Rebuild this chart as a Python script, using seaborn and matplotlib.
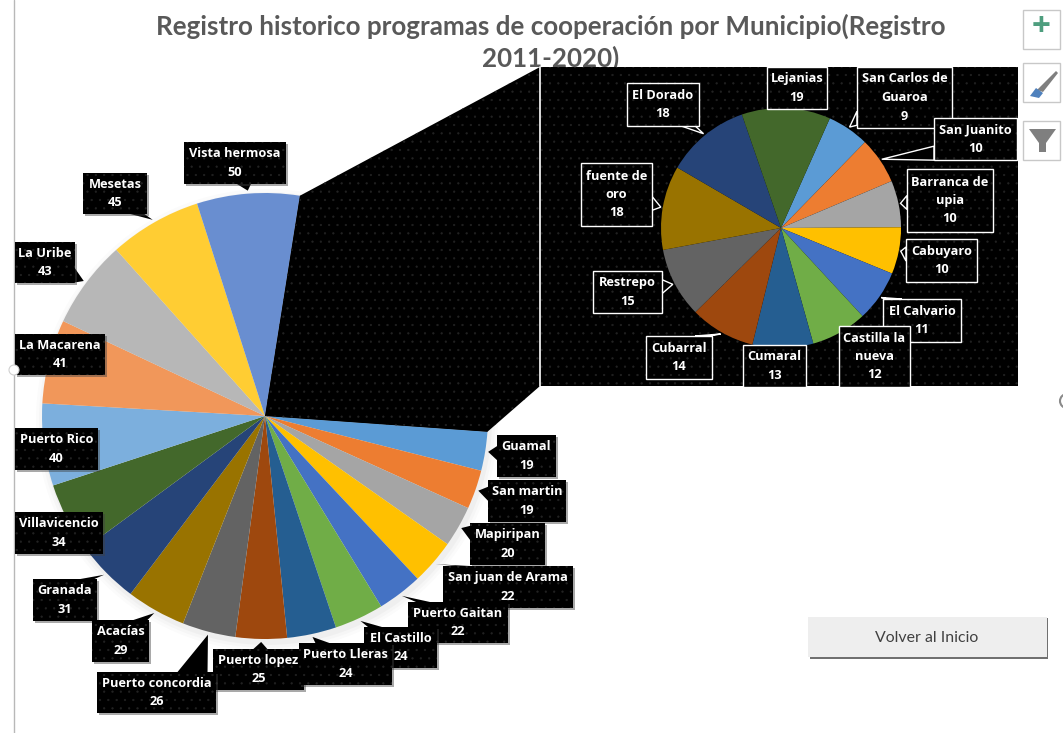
import matplotlib
matplotlib.use("Agg")
import matplotlib.pyplot as plt
import numpy as np
import seaborn as sns
from matplotlib.patches import Circle, Polygon, Rectangle

# Data
main_names = ["Guamal", "San martin", "Mapiripan", "San juan de Arama", "Puerto Gaitan",
              "El Castillo", "Puerto Lleras", "Puerto lopez", "Puerto concordia", "Acacías",
              "Granada", "Villavicencio", "Puerto Rico", "La Macarena", "La Uribe",
              "Mesetas", "Vista hermosa"]
main_values = [19, 19, 20, 22, 22, 24, 24, 25, 26, 29, 31, 34, 40, 41, 43, 45, 50]
main_colors = ["#5B9BD5", "#ED7D31", "#A5A5A5", "#FFC000", "#4472C4", "#70AD47",
               "#255E91", "#9E480E", "#636363", "#997300", "#264478", "#43682B",
               "#7CAFDD", "#F1975A", "#B7B7B7", "#FFCD33", "#698ED0"]

sub_names = ["San Carlos de\nGuaroa", "San Juanito", "Barranca de\nupia", "Cabuyaro",
             "El Calvario", "Castilla la\nnueva", "Cumaral", "Cubarral", "Restrepo",
             "fuente de\noro", "El Dorado", "Lejanias"]
sub_values = [9, 10, 10, 10, 11, 12, 13, 14, 15, 18, 18, 19]
sub_colors = ["#5B9BD5", "#ED7D31", "#A5A5A5", "#FFC000", "#4472C4", "#70AD47",
              "#255E91", "#9E480E", "#636363", "#997300", "#264478", "#43682B"]

# Label boxes in image pixels: x0, y0, x1, y1 (drawn in this order, later ones on top)
main_boxes = {
    "Guamal": (497, 435, 556, 477), "San martin": (488, 480, 566, 522),
    "Mapiripan": (470, 523, 545, 565), "San juan de Arama": (443, 566, 573, 608),
    "Puerto Gaitan": (408, 602, 508, 643), "El Castillo": (364, 627, 437, 668),
    "Puerto lopez": (213, 649, 304, 690), "Puerto Lleras": (299, 643, 392, 685),
    "Puerto concordia": (97, 672, 216, 713), "Granada": (33, 579, 97, 621),
    "Acacías": (92, 620, 149, 662), "Villavicencio": (15, 512, 103, 554),
    "Puerto Rico": (15, 428, 98, 470), "La Macarena": (15, 334, 105, 375),
    "La Uribe": (15, 242, 75, 283), "Mesetas": (83, 173, 147, 214),
    "Vista hermosa": (184, 142, 286, 184),
}
sub_boxes = {
    "San Carlos de\nGuaroa": (857, 67, 952, 128), "San Juanito": (934, 118, 1017, 160),
    "Barranca de\nupia": (907, 169, 993, 232), "Cabuyaro": (906, 239, 977, 282),
    "El Calvario": (883, 299, 961, 342), "Castilla la\nnueva": (839, 326, 910, 387),
    "Cumaral": (743, 345, 806, 387), "Cubarral": (646, 336, 712, 379),
    "Restrepo": (593, 271, 662, 313), "fuente de\noro": (581, 163, 652, 226),
    "El Dorado": (627, 83, 699, 126), "Lejanias": (767, 67, 827, 109),
}

W, H = 1063, 733
DOTS = "#222222"
LINE_STEP = 18.5

sns.set_theme(style="white")
plt.rcParams["font.family"] = ["Open Sans", "DejaVu Sans"]
plt.rcParams["hatch.linewidth"] = 0.4

fig = plt.figure(figsize=(W / 100, H / 100), dpi=100)
ax = fig.add_axes([0, 0, 1, 1])


def py(y):
    return H - y


# soft shadow under the big pie
for grow, a in [(8, 0.03), (5, 0.04), (2, 0.05)]:
    ax.add_patch(Circle((267, py(420)), 223 + grow, color="#808080", alpha=a, lw=0, zorder=0.5))

# big pie, the black slice holds everything from the small pie
other = sum(sub_values)
main_wedges, _ = ax.pie([other] + main_values, colors=["#000000"] + sns.color_palette(main_colors),
                        center=(265, py(416)), radius=223, startangle=81, counterclock=False,
                        frame=True, wedgeprops={"linewidth": 0})
main_wedges[0].set(edgecolor=DOTS, linewidth=0, hatch="..")


def edge_point(center, r, angle):
    return center[0] + r * np.cos(np.radians(angle)), center[1] + r * np.sin(np.radians(angle))


# black band joining the slice to the box of the small pie
c_main = (265, py(416))
top = edge_point(c_main, 223, main_wedges[0].theta2)
bottom = edge_point(c_main, 223, main_wedges[0].theta1)
ax.add_patch(Polygon([c_main, top, (540, py(67)), (540, py(386)), bottom], closed=True,
                     facecolor="black", edgecolor=DOTS, linewidth=0, hatch="..", zorder=1.5))
ax.add_patch(Rectangle((540, py(386)), 478, 319, facecolor="black", edgecolor=DOTS,
                       linewidth=0, hatch="..", zorder=1.5))
ax.plot([540, 540], [py(67), py(386)], color="white", lw=1.2, zorder=1.6)

# small pie
sub_wedges, _ = ax.pie(sub_values, colors=sns.color_palette(sub_colors), center=(781, py(228)),
                       radius=120, startangle=66, counterclock=False, frame=True,
                       wedgeprops={"linewidth": 0, "zorder": 2})


def add_label(text, box, tip, z, outline, tail=14):
    x0, y0, x1, y1 = box
    yb, yt = py(y1), py(y0)
    bx = np.clip(tip[0], x0, x1)
    by = np.clip(tip[1], yb, yt)
    mx, my = (x0 + x1) / 2, (yb + yt) / 2
    # tail leaves from the box side nearest to the pie edge
    if by in (yb, yt):
        bx = bx + 0.3 * (mx - bx)
        base = [(bx - tail / 2, by), (bx + tail / 2, by)]
    else:
        by = by + 0.3 * (my - by)
        base = [(bx, by - tail / 2), (bx, by + tail / 2)]
    edge = "white" if outline else "black"
    ax.add_patch(Polygon([tip] + base, closed=True, facecolor="black", edgecolor=edge,
                         linewidth=1 if outline else 0, zorder=z))
    if not outline:
        ax.add_patch(Rectangle((x0 + 2, yb - 2), x1 - x0, y1 - y0, color="#404040",
                               alpha=0.45, lw=0, zorder=z))
    ax.add_patch(Rectangle((x0, yb), x1 - x0, y1 - y0, facecolor="black", edgecolor=DOTS,
                           linewidth=0, hatch="..", zorder=z))
    if outline:
        ax.add_patch(Rectangle((x0, yb), x1 - x0, y1 - y0, fill=False, edgecolor="white",
                               linewidth=1, zorder=z))
    # one text per line, so the crowded labels at the bottom stay readable
    lines = text.split("\n")
    for k, line in enumerate(lines):
        ax.text(mx, my + ((len(lines) - 1) / 2 - k) * LINE_STEP, line, ha="center", va="center",
                color="white", fontsize=9.2, fontweight="bold", zorder=z)


z = 3
for name, box in main_boxes.items():
    i = main_names.index(name)
    w = main_wedges[i + 1]
    tip = edge_point(c_main, 226, (w.theta1 + w.theta2) / 2)
    add_label(f"{name}\n{main_values[i]}", box, tip, z, False,
              tail=30 if name == "Puerto concordia" else 14)
    z += 0.01

for name, box in sub_boxes.items():
    i = sub_names.index(name)
    w = sub_wedges[i]
    tip = edge_point((781, py(228)), 122, (w.theta1 + w.theta2) / 2)
    add_label(f"{name}\n{sub_values[i]}", box, tip, z, True)
    z += 0.01

# title
ax.text(551, py(42), "Registro historico programas de cooperación por Municipio(Registro\n2011-2020)",
        ha="center", va="center", fontsize=18.7, fontweight="bold", color="#595959",
        family="Lato", linespacing=1.3, zorder=1.2)

# sheet edge and handles
ax.plot([14, 14], [py(0), py(733)], color="#B8B8B8", lw=1, zorder=0.4)
ax.add_patch(Circle((14, py(370)), 5, facecolor="white", edgecolor="#D0D0D0", lw=0.8, zorder=6))
ax.add_patch(Circle((1067, py(401)), 7, facecolor="white", edgecolor="#8A8A8A", lw=1.5, zorder=6))

# chart buttons on the right
for y0 in [10, 63, 121]:
    ax.add_patch(Rectangle((1023, py(y0 + 39)), 37, 39, facecolor="white", edgecolor="#C8C8C8",
                           linewidth=1, zorder=6))
ax.text(1041, py(28), "+", ha="center", va="center", fontsize=24, fontweight="bold",
        color="#4E9E7E", zorder=7)
ax.add_patch(Polygon([(1037, py(90)), (1056, py(71)), (1058, py(73)), (1043, py(92))],
                     closed=True, color="#7F7F7F", lw=0, zorder=7))
ax.add_patch(Polygon([(1030, py(96)), (1036, py(88)), (1043, py(93)), (1039, py(98))],
                     closed=True, color="#4F81BD", lw=0, zorder=7))
ax.add_patch(Polygon([(1029, py(129)), (1056, py(129)), (1046, py(143)), (1046, py(152)),
                      (1039, py(152)), (1039, py(143))], closed=True, color="#7F7F7F", lw=0, zorder=7))

# macro button
ax.add_patch(Rectangle((810, py(659)), 238, 41, color="#707070", lw=0, zorder=6))
ax.add_patch(Rectangle((808, py(657)), 239, 40, color="#EEEEEE", lw=0, zorder=6))
ax.text(927, py(638), "Volver al Inicio", ha="center", va="center", fontsize=11.4,
        color="#404040", family="Lato", zorder=7)

ax.set_xlim(0, W)
ax.set_ylim(0, H)
ax.set_aspect("auto")
ax.axis("off")
fig.savefig("out.png", dpi=100, facecolor="white")
